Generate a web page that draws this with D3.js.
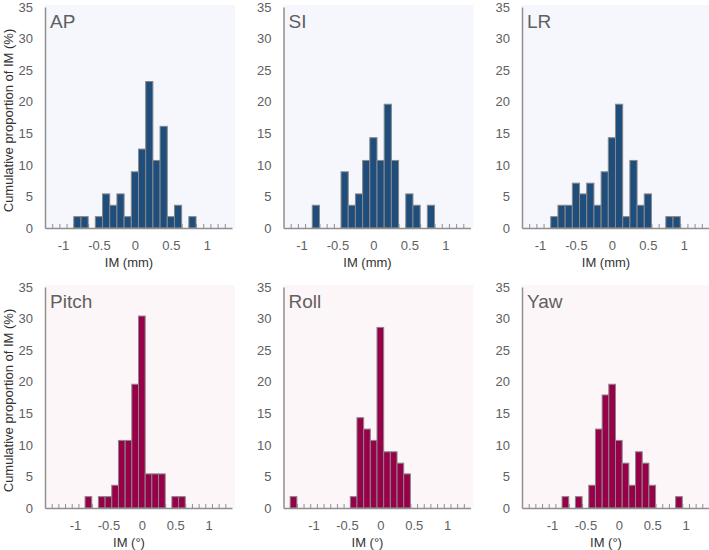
<!DOCTYPE html>
<html>
<head>
<meta charset="utf-8">
<script src="https://cdn.jsdelivr.net/npm/d3@7"></script>
<style>
  html, body { margin: 0; padding: 0; background: #ffffff; }
  svg { display: block; font-family: "Liberation Sans", Arial, sans-serif; }
</style>
</head>
<body>
<svg id="chart" width="709" height="550"></svg>
<script>
// ---- data (percent of IM per 0.1-wide bin, bins centred on the listed values) ----
const panelNames = ["AP", "SI", "LR", "Pitch", "Roll", "Yaw"];
const xTitles = ["IM (mm)", "IM (°)"];
const xTickValues = [-1, -0.5, 0, 0.5, 1];
const xTickLabels = ["-1", "-0.5", "0", "0.5", "1"];
const yTickValues = [0, 5, 10, 15, 20, 25, 30, 35];

const apBins = [-0.8, -0.7, -0.5, -0.4, -0.3, -0.2, -0.1, 0, 0.1, 0.2, 0.3, 0.4, 0.5, 0.6, 0.8];
const apPct  = [1.8, 1.8, 1.8, 5.4, 3.6, 5.4, 1.8, 8.9, 12.5, 23.2, 10.7, 16.1, 1.8, 3.6, 1.8];

const siBins = [-0.8, -0.4, -0.3, -0.2, -0.1, 0, 0.1, 0.2, 0.3, 0.5, 0.6, 0.8];
const siPct  = [3.6, 8.9, 3.6, 5.4, 10.7, 14.3, 10.7, 19.6, 10.7, 5.4, 3.6, 3.6];

const lrBins = [-0.8, -0.7, -0.6, -0.5, -0.4, -0.3, -0.2, -0.1, 0, 0.1, 0.2, 0.3, 0.4, 0.5, 0.8, 0.9];
const lrPct  = [1.8, 3.6, 3.6, 7.1, 5.4, 7.1, 3.6, 8.9, 14.3, 19.6, 1.8, 10.7, 3.6, 5.4, 1.8, 1.8];

const pitchBins = [-0.8, -0.6, -0.5, -0.4, -0.3, -0.2, -0.1, 0, 0.1, 0.2, 0.3, 0.5, 0.6];
const pitchPct  = [1.8, 1.8, 1.8, 3.6, 10.7, 10.7, 19.6, 30.4, 5.4, 5.4, 5.4, 1.8, 1.8];

const rollBins = [-1.3, -0.4, -0.3, -0.2, -0.1, 0, 0.1, 0.2, 0.3, 0.4];
const rollPct  = [1.8, 1.8, 14.3, 12.5, 10.7, 28.6, 8.9, 8.9, 7.1, 5.4];

const yawBins = [-0.8, -0.6, -0.4, -0.3, -0.2, -0.1, 0, 0.1, 0.2, 0.3, 0.4, 0.5, 0.9];
const yawPct  = [1.8, 1.8, 3.6, 12.5, 17.9, 19.6, 10.7, 7.1, 3.6, 8.9, 7.1, 3.6, 1.8];

const topDomain = [-1.25, 1.35];
const bottomDomain = [-1.45, 1.35];
const binWidth = 0.1;

// ---- layout / style ----
const svg = d3.select("#chart");
const panelLefts = [45, 283.5, 522];
const plotW = 187;
const rows = [
  { top: 7, bottom: 228, domain: topDomain, bar: "#1f4e7d", bg: "#f5f7fc", title: xTitles[0] },
  { top: 287, bottom: 508, domain: bottomDomain, bar: "#98004a", bg: "#fdf6f8", title: xTitles[1] }
];
const panelData = [
  [apBins, apPct], [siBins, siPct], [lrBins, lrPct],
  [pitchBins, pitchPct], [rollBins, rollPct], [yawBins, yawPct]
];
const axisColor = "#8f8f8f";
const textColor = "#606060";

panelNames.forEach((name, i) => {
  const row = rows[Math.floor(i / 3)];
  const left = panelLefts[i % 3];
  const [bins, pct] = panelData[i];
  const x = d3.scaleLinear().domain(row.domain).range([left, left + plotW]);
  const y = d3.scaleLinear().domain([0, 35]).range([row.bottom, row.top]);
  const g = svg.append("g");

  // background
  g.append("rect")
    .attr("x", left).attr("y", row.top - 2)
    .attr("width", plotW + 3).attr("height", row.bottom - row.top + 2)
    .attr("fill", row.bg);

  // minor ticks at bin edges (drawn before bars so bars cover them)
  const edges = d3.range(Math.round(row.domain[0] * 10) + 1, Math.round(row.domain[1] * 10))
    .map(k => +(k / 10 - 0.05).toFixed(2))
    .filter(v => v > row.domain[0] + 0.01 && v < row.domain[1]);
  const xMinor = d3.axisBottom(x).tickValues(edges).tickSize(-4).tickFormat("");
  const minorG = g.append("g").attr("transform", `translate(0,${row.bottom})`).call(xMinor);
  minorG.select(".domain").remove();
  minorG.selectAll(".tick line").attr("stroke", axisColor).attr("stroke-width", 1);

  // bars
  g.selectAll("rect.bar")
    .data(bins.map((b, j) => ({ c: b, v: pct[j] })))
    .join("rect")
    .attr("class", "bar")
    .attr("x", d => x(d.c - binWidth / 2))
    .attr("width", d => x(d.c + binWidth / 2) - x(d.c - binWidth / 2))
    .attr("y", d => y(d.v))
    .attr("height", d => y(0) - y(d.v))
    .attr("fill", row.bar)
    .attr("stroke", "#888888")
    .attr("stroke-width", 1);

  // x axis line + labels
  const xAxis = d3.axisBottom(x).tickValues(xTickValues)
    .tickFormat((d, k) => xTickLabels[k]).tickSize(0).tickPadding(13);
  const xg = g.append("g").attr("transform", `translate(0,${row.bottom})`).call(xAxis);
  xg.select(".domain").attr("stroke", axisColor).attr("stroke-width", 1.5);
  xg.selectAll(".tick text").attr("fill", textColor).attr("font-size", 13)
    .attr("font-family", "Liberation Sans, Arial, sans-serif");

  // y axis
  const yAxis = d3.axisLeft(y).tickValues(yTickValues).tickSize(0).tickPadding(12);
  const yg = g.append("g").attr("transform", `translate(${left},0)`).call(yAxis);
  yg.select(".domain").attr("stroke", axisColor).attr("stroke-width", 1.5);
  yg.selectAll(".tick text").attr("fill", textColor).attr("font-size", 13)
    .attr("font-family", "Liberation Sans, Arial, sans-serif");

  // panel label
  g.append("text").attr("x", left + 5).attr("y", row.top + 21)
    .attr("font-size", 19).attr("fill", textColor).text(name);

  // x title
  g.append("text").attr("x", left + 84).attr("y", row.bottom + 38.5)
    .attr("text-anchor", "middle").attr("font-size", 13).attr("fill", "#333")
    .text(row.title);

  // y title only for first column
  if (i % 3 === 0) {
    g.append("text")
      .attr("transform", `translate(13,${(row.top + row.bottom) / 2 + 3}) rotate(-90)`)
      .attr("text-anchor", "middle").attr("font-size", 13).attr("fill", "#333")
      .text("Cumulative proportion of IM (%)");
  }
});
</script>
</body>
</html>
